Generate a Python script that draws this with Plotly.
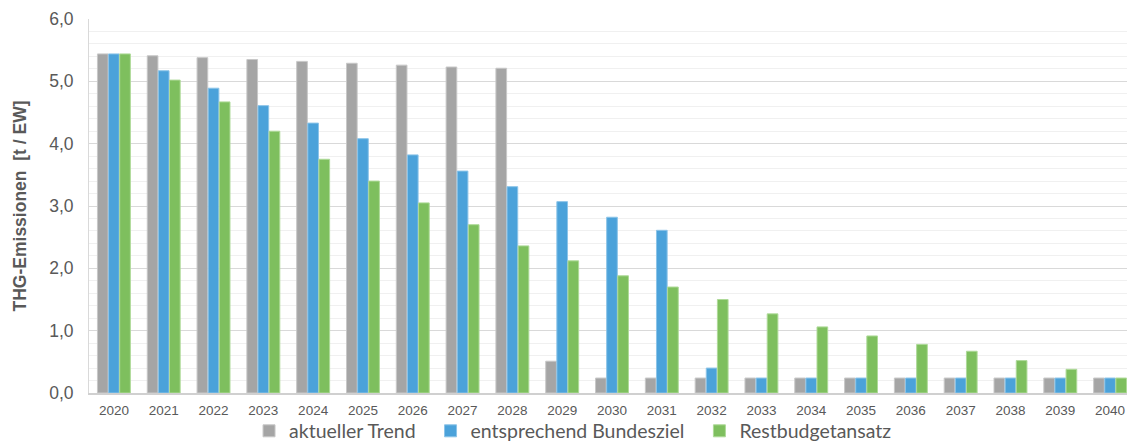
import plotly.graph_objects as go

years = [str(y) for y in range(2020, 2041)]
trend = [5.44, 5.41, 5.38, 5.35, 5.32, 5.29, 5.26, 5.23, 5.21, 0.51, 0.24,
         0.24, 0.24, 0.24, 0.24, 0.24, 0.24, 0.24, 0.24, 0.24, 0.24]
bund = [5.44, 5.17, 4.89, 4.61, 4.33, 4.08, 3.82, 3.56, 3.31, 3.07, 2.82,
        2.61, 0.40, 0.24, 0.24, 0.24, 0.24, 0.24, 0.24, 0.24, 0.24]
rest = [5.44, 5.02, 4.67, 4.20, 3.75, 3.40, 3.05, 2.70, 2.36, 2.12, 1.88,
        1.70, 1.50, 1.27, 1.06, 0.915, 0.78, 0.67, 0.52, 0.38, 0.24]

names = ["aktueller Trend", "entsprechend Bundesziel", "Restbudgetansatz"]
colors = ["#A5A5A5", "#4BA2DA", "#7EBF5E"]
edges = ["#C8C8C8", "#8CC4E8", "#AEDA98"]

pad = "\u00a0\u00a0"
fig = go.Figure()
for vals, n, c, e in zip([trend, bund, rest], names, colors, edges):
    fig.add_trace(go.Bar(x=years, y=vals, name=n + pad,
                         marker=dict(color=c, line=dict(color=e, width=1))))

fig.update_layout(
    width=1127, height=433,
    margin=dict(l=81, r=0, t=11, b=48, autoexpand=False),
    paper_bgcolor="white", plot_bgcolor="white",
    separators=",.",
    barmode="group", bargap=0.33, bargroupgap=0.04,
    font=dict(family="Liberation Sans, Arial, sans-serif", color="#595959"),
    legend=dict(orientation="h", x=0.153, xanchor="left", y=-0.102, yref="paper",
                yanchor="middle", bgcolor="rgba(0,0,0,0)",
                font=dict(family="Lato, sans-serif", size=19.5, color="#595959"),
                itemwidth=30, tracegroupgap=0),
    showlegend=True,
)
fig.update_xaxes(type="category", showgrid=False, showline=True, linecolor="#D0D0D0",
                 linewidth=1.5, ticks="", tickfont=dict(size=13.5, color="#595959"),
                 ticklabelstandoff=4, automargin=False, range=[-0.5, 20.5])
fig.update_yaxes(range=[0, 6], dtick=1, tickformat=".1f", showgrid=True,
                 gridcolor="#D9D9D9", gridwidth=1, zeroline=False,
                 showline=True, linecolor="#D9D9D9", linewidth=1,
                 tickfont=dict(size=17.5, color="#595959"), automargin=False,
                 ticklabelstandoff=11,
                 minor=dict(dtick=0.2, showgrid=True, gridcolor="#F0F0F0", gridwidth=1),
                 title=dict(text="<b>THG-Emissionen  [t / EW]</b>",
                            font=dict(size=17.5, color="#595959"), standoff=18))
fig.write_html("out.html")
